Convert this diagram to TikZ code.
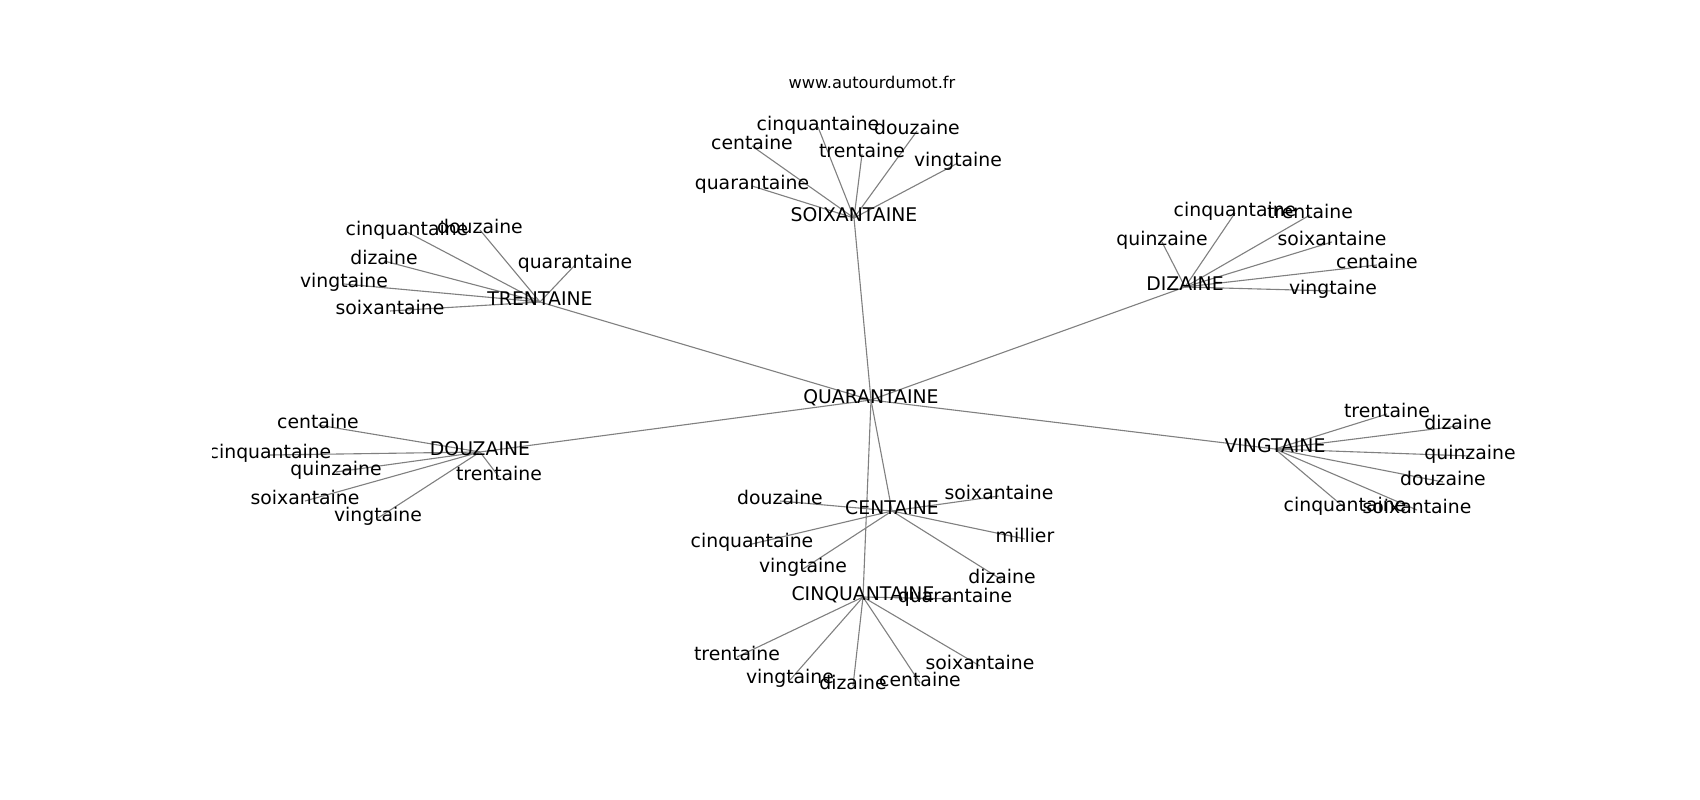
\documentclass[tikz,border=0pt]{standalone}
\usepackage{fontspec}
\setmainfont{DejaVu Sans}
\usetikzlibrary{backgrounds}
\begin{document}
\begin{tikzpicture}[x=0.01in,y=-0.01in,
  word/.style={inner sep=0pt,text height=0.76em,text depth=0.24em,font=\fontsize{13.6}{16}\selectfont},
  link/.style={gray,line width=0.8pt}]
\useasboundingbox (0,0) rectangle (1700,800);
\node[word,font=\fontsize{11.7}{14}\selectfont] (site) at (872,85) {www.autourdumot.fr};
\begin{scope}[shift={(0,3)}]
\clip (212.5,93) rectangle (1530,709);
% centre and its seven hubs
\node[word] (quar) at (871,397) {QUARANTAINE};
\node[word] (soix) at (854,215) {SOIXANTAINE};
\node[word] (tren) at (540,299) {TRENTAINE};
\node[word] (diz) at (1185,284) {DIZAINE};
\node[word] (douz) at (480,449) {DOUZAINE};
\node[word] (ving) at (1275,446) {VINGTAINE};
\node[word] (cent) at (892,508) {CENTAINE};
\node[word] (cinq) at (863,594) {CINQUANTAINE};
\begin{scope}[on background layer]
\foreach \h in {soix,tren,diz,douz,ving,cent,cinq}
  \draw[link] (quar.center)--(\h.center);
\end{scope}
% leaves, one list per hub
\foreach \h/\list in {
  soix/{cinquantaine/818/124,centaine/752/143,trentaine/862/151,douzaine/917/128,vingtaine/958/160,quarantaine/752/183},
  tren/{cinquantaine/407/229,douzaine/480/227,dizaine/384/258,quarantaine/575/262,vingtaine/344/281,soixantaine/390/308},
  douz/{centaine/318/422,cinquantaine/270/452,quinzaine/336/469,soixantaine/305/498,vingtaine/378/515,trentaine/499/474},
  diz/{cinquantaine/1235/210,trentaine/1310/212,quinzaine/1162/239,soixantaine/1332/239,centaine/1377/262,vingtaine/1333/288},
  ving/{trentaine/1387/411,dizaine/1458/423,quinzaine/1470/453,douzaine/1443/479,cinquantaine/1345/505,soixantaine/1417/507},
  cent/{douzaine/780/498,soixantaine/999/493,cinquantaine/752/541,millier/1025/536,vingtaine/803/566,dizaine/1002/577},
  cinq/{quarantaine/955/596,trentaine/737/654,vingtaine/790/677,dizaine/853/683,centaine/920/680,soixantaine/980/663}}
  \foreach \t/\x/\y in \list {
    \node[word] (\h-\t) at (\x,\y) {\t};
    \begin{scope}[on background layer]
    \draw[link] (\h.center)--(\h-\t.center);
    \end{scope}
  }
\end{scope}
\end{tikzpicture}
\end{document}
